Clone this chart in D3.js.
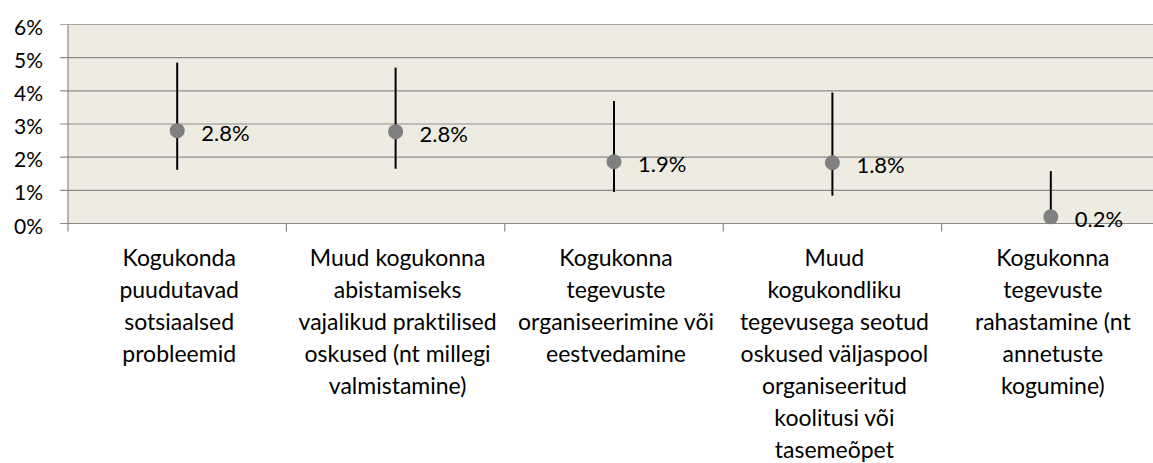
<!DOCTYPE html>
<html>
<head>
<meta charset="utf-8">
<script src="https://cdn.jsdelivr.net/npm/d3@7"></script>
<style>
  body { margin: 0; background: #fff; }
  text { font-family: Lato, "Open Sans", sans-serif; fill: #000; font-variant-ligatures: none; }
</style>
</head>
<body>
<svg id="chart" width="1153" height="463"></svg>
<script>
// data
const categories = [
    ["Kogukonda", "puudutavad", "sotsiaalsed", "probleemid"],
    ["Muud kogukonna", "abistamiseks", "vajalikud praktilised", "oskused (nt millegi", "valmistamine)"],
    ["Kogukonna", "tegevuste", "organiseerimine või", "eestvedamine"],
    ["Muud", "kogukondliku", "tegevusega seotud", "oskused väljaspool", "organiseeritud", "koolitusi või", "tasemeõpet"],
    ["Kogukonna", "tegevuste", "rahastamine (nt", "annetuste", "kogumine)"]
];
const values = [2.8, 2.77, 1.86, 1.83, 0.2];
const upper = [4.85, 4.70, 3.69, 3.95, 1.58];
const lower = [1.62, 1.65, 0.95, 0.84, 0.0];
const yTicks = [0, 1, 2, 3, 4, 5, 6];

const svg = d3.select('#chart');

const plotLeft = 68, plotRight = 1160, plotTop = 24.5, plotBottom = 223.5;
const ids = categories.map((c, i) => i);

const x = d3.scaleBand()
    .domain(ids)
    .range([plotLeft, plotRight])
    .padding(0);

const y = d3.scaleLinear()
    .domain([0, 6])
    .range([plotBottom, plotTop]);

// plot background
svg.append('rect')
    .attr('x', plotLeft)
    .attr('y', plotTop)
    .attr('width', plotRight - plotLeft)
    .attr('height', plotBottom - plotTop)
    .attr('fill', '#EEECE1');

// gridlines
svg.append('g')
    .selectAll('line')
    .data(yTicks)
    .enter()
    .append('line')
    .attr('x1', plotLeft - 8)
    .attr('x2', plotRight)
    .attr('y1', (d) => y(d))
    .attr('y2', (d) => y(d))
    .attr('stroke', (d) => d === 6 ? '#a8a8a8' : '#8a8a8a')
    .attr('stroke-width', 1.2);

// y axis line
svg.append('line')
    .attr('x1', plotLeft).attr('x2', plotLeft)
    .attr('y1', plotTop).attr('y2', plotBottom + 8)
    .attr('stroke', '#8a8a8a')
    .attr('stroke-width', 1.2);

// y tick labels
svg.append('g')
    .selectAll('text')
    .data(yTicks)
    .enter()
    .append('text')
    .attr('x', 43)
    .attr('y', (d) => y(d) + 1.5)
    .attr('text-anchor', 'end')
    .attr('dominant-baseline', 'central')
    .style('font-size', '21px')
    .text((d) => d + '%');

// category boundary ticks
svg.append('g')
    .selectAll('line')
    .data(ids.slice(1))
    .enter()
    .append('line')
    .attr('x1', (d) => x(d))
    .attr('x2', (d) => x(d))
    .attr('y1', plotBottom)
    .attr('y2', plotBottom + 8)
    .attr('stroke', '#8a8a8a')
    .attr('stroke-width', 1.2);

const cx = (i) => x(i) + x.bandwidth() / 2;

// error bars
svg.append('g')
    .selectAll('line')
    .data(ids)
    .enter()
    .append('line')
    .attr('x1', cx)
    .attr('x2', cx)
    .attr('y1', (i) => y(upper[i]))
    .attr('y2', (i) => y(lower[i]))
    .attr('stroke', '#000')
    .attr('stroke-width', 2);

// points
svg.append('g')
    .selectAll('circle')
    .data(ids)
    .enter()
    .append('circle')
    .attr('cx', cx)
    .attr('cy', (i) => y(values[i]))
    .attr('r', 7.5)
    .attr('fill', '#808080');

// value labels
const fmt = d3.format('.1f');
svg.append('g')
    .selectAll('text')
    .data(ids)
    .enter()
    .append('text')
    .attr('x', (i) => cx(i) + 24)
    .attr('y', (i) => y(values[i]) + 2)
    .attr('dominant-baseline', 'central')
    .style('font-size', '22px')
    .text((i) => fmt(values[i]) + '%');

// category labels
const catText = svg.append('g')
    .selectAll('text')
    .data(ids)
    .enter()
    .append('text')
    .attr('text-anchor', 'middle')
    .style('font-size', '23px');

catText.selectAll('tspan')
    .data((i) => categories[i].map((line) => ({ i, line })))
    .enter()
    .append('tspan')
    .attr('x', (d) => cx(d.i) + 2)
    .attr('y', (d, k) => 266 + k * 32)
    .text((d) => d.line);
</script>
</body>
</html>
